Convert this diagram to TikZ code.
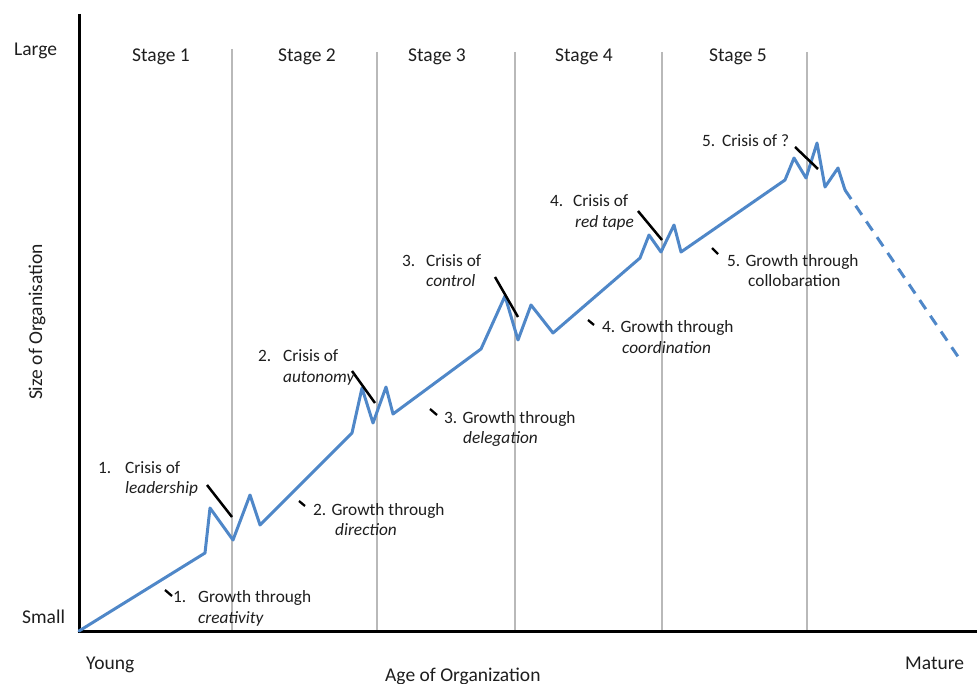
\documentclass[tikz,border=0pt]{standalone}
\usepackage{fontspec}
\setmainfont{Carlito}
\definecolor{curveblue}{RGB}{79,135,200}
\definecolor{txt}{RGB}{30,30,30}
\begin{document}
\begin{tikzpicture}[x=1pt,y=-1pt,
  lbl/.style={font=\fontsize{17.3}{20}\selectfont,text=txt,anchor=base west,inner sep=0pt},
  axlbl/.style={font=\fontsize{19.5}{22}\selectfont,text=txt,anchor=base west,inner sep=0pt},
  stageline/.style={draw=gray!55,line width=1.1pt},
  crisis/.style={draw=black,line width=2.5pt},
  gtick/.style={draw=black,line width=2.3pt},
  curve/.style={draw=curveblue,line width=3pt,line join=round,line cap=round}]
\useasboundingbox (0,0) rectangle (977,684);
% stage separators
\foreach \xx/\yy in {232/49,377/52,515/52,662/52,807/52}
  \draw[stageline] (\xx,\yy) -- (\xx,631);
% axes
\coordinate (origin) at (79,631);
\coordinate (ytop) at (79,14);
\coordinate (xend) at (977,631);
\draw[line width=3pt] (ytop) -- (origin) -- (xend);
% axis labels
\node[axlbl] (large) at (14,56) {Large};
\node[axlbl] (small) at (22,623) {Small};
\node[axlbl] (young) at (86,669) {Young};
\node[axlbl] (age) at (385,681) {Age of Organization};
\node[axlbl] (mature) at (905,669) {Mature};
\node[font=\fontsize{19.5}{22}\selectfont,text=txt,rotate=90,inner sep=0pt] (size) at (37,322) {Size of Organisation};
% stages
\node[axlbl] (s1) at (132,62) {Stage 1};
\node[axlbl] (s2) at (278,62) {Stage 2};
\node[axlbl] (s3) at (408,62) {Stage 3};
\node[axlbl] (s4) at (555,62) {Stage 4};
\node[axlbl] (s5) at (709,62) {Stage 5};
% growth curve
\draw[curve] (origin) -- (205,553) -- (210,508) -- (233,540) -- (250,495) -- (260,525)
  -- (352,433) -- (362,388) -- (373,423) -- (386,387) -- (393,414)
  -- (481,349) -- (505,296) -- (518,340) -- (531,305) -- (553,333)
  -- (640,258) -- (649,235) -- (661,252) -- (674,225) -- (681,252)
  -- (785,180) -- (794,158) -- (806,178) -- (817,143) -- (825,187) -- (838,168) -- (845,190)
  coordinate (peakend);
\coordinate (decline) at (961,361);
\draw[curve,line cap=butt,dash pattern=on 11pt off 8pt] (peakend) -- (decline);
% crisis markers
\draw[crisis] (207,485) -- (232,517);
\draw[crisis] (352,371) -- (375,403);
\draw[crisis] (495,277) -- (518,317);
\draw[crisis] (638,211) -- (662,240);
\draw[crisis] (795,147) -- (818,169);
% growth ticks
\draw[gtick] (165,590) -- (172,596);
\draw[gtick] (299,501) -- (305,506);
\draw[gtick] (430,409) -- (437,415);
\draw[gtick] (588,320) -- (594,325);
\draw[gtick] (712,248) -- (718,254);
% crisis labels
\node[lbl] (c1n) at (98,473) {1.};
\node[lbl] (c1a) at (125,473) {Crisis of};
\node[lbl] (c1b) at (125,493) {\itshape leadership};
\node[lbl] (c2n) at (258,362) {2.};
\node[lbl] (c2a) at (283,362) {Crisis of};
\node[lbl] (c2b) at (283,382) {\itshape autonomy};
\node[lbl] (c3n) at (402,267) {3.};
\node[lbl] (c3a) at (426,267) {Crisis of};
\node[lbl] (c3b) at (426,287) {\itshape control};
\node[lbl] (c4n) at (550,207) {4.};
\node[lbl] (c4a) at (573,207) {Crisis of};
\node[lbl] (c4b) at (575,228) {\itshape red tape};
\node[lbl] (c5n) at (702,147) {5.};
\node[lbl] (c5a) at (722,147) {Crisis of ?};
% growth labels
\node[lbl] (g1n) at (173,602) {1.};
\node[lbl] (g1a) at (198,602) {Growth through};
\node[lbl] (g1b) at (198,623) {\itshape creativity};
\node[lbl] (g2a) at (313,515) {2. Growth through};
\node[lbl] (g2b) at (335,535) {\itshape direction};
\node[lbl] (g3a) at (444,423) {3. Growth through};
\node[lbl] (g3b) at (463,443) {\itshape delegation};
\node[lbl] (g4a) at (602,333) {4. Growth through};
\node[lbl] (g4b) at (622,354) {\itshape coordination};
\node[lbl] (g5a) at (727,267) {5. Growth through};
\node[lbl] (g5b) at (748,287) {collobaration};
\end{tikzpicture}
\end{document}
